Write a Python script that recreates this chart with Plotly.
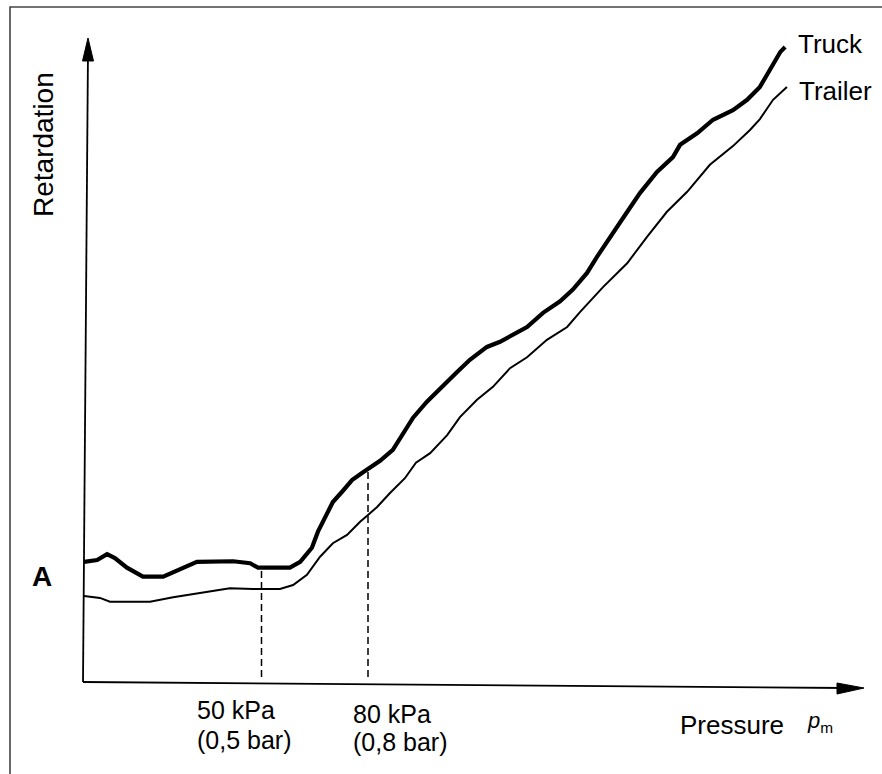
import plotly.graph_objects as go
import numpy as np

# ---- data (pressure in kPa, retardation in arbitrary units) ----
truck_p = [0, 3.7, 6.5, 8.7, 12.1, 16.6, 22.3, 26.2, 31.8, 42.0,
           46.8, 49.0, 58.0, 60.9, 64.2, 65.9, 67.9, 70.1, 72.7, 75.5,
           78.3, 80.6, 83.4, 87.0, 89.9, 92.7, 96.6, 100.3, 105.1, 108.7,
           113.5, 117.2, 120.8, 124.8, 129.3, 134.1, 137.7, 141.7, 144.5, 148.2,
           151.8, 156.6, 161.4, 165.9, 167.9, 172.7, 177.2, 182.8, 186.8, 190.4,
           193.2, 196.1, 197.5]
truck_r = [18.6, 18.9, 19.8, 19.2, 17.7, 16.3, 16.3, 17.3, 18.6, 18.7,
           18.4, 17.7, 17.7, 18.6, 20.8, 23.3, 25.6, 27.9, 29.5, 31.3,
           32.4, 33.2, 34.3, 36.0, 38.6, 41.0, 43.5, 45.6, 48.1, 50.0,
           52.0, 52.8, 53.9, 55.1, 57.3, 59.1, 60.9, 63.5, 66.0, 68.9,
           72.0, 75.9, 79.2, 81.5, 83.4, 85.2, 87.3, 88.8, 90.4, 92.4,
           95.0, 97.8, 98.6]

trailer_p = [0, 4.5, 7.3, 18.6, 25.1, 32.7, 41.1, 47.6, 55.2, 58.9,
             62.8, 66.5, 70.1, 74.1, 77.7, 80.0, 82.5, 86.2, 90.4, 93.5,
             97.5, 102.3, 105.9, 110.7, 115.2, 120.0, 124.8, 130.4, 136.1, 139.7,
             146.2, 153.0, 158.6, 164.2, 169.9, 176.3, 182.8, 187.6, 190.4, 194.1,
             198.0]
trailer_r = [13.3, 13.0, 12.4, 12.4, 13.1, 13.8, 14.5, 14.4, 14.4, 15.0,
             16.6, 19.4, 21.5, 22.8, 24.8, 25.9, 27.1, 29.3, 31.6, 34.0,
             35.5, 38.3, 41.1, 43.8, 45.8, 48.7, 50.4, 53.1, 55.1, 57.4,
             61.3, 65.0, 69.1, 73.0, 76.1, 80.3, 83.2, 85.7, 87.4, 90.4,
             92.4]

marker_p = [50, 80]
marker_labels = [("50 kPa", "(0,5 bar)"), ("80 kPa", "(0,8 bar)")]

# ---- layout geometry ----
W, H = 882, 774
L, R, T, B = 84, 19, 38, 28
KPA_PX = 3.55
Y0_PX = 681.6
UNIT_PX = 6.436
x_max = (W - R - L) / KPA_PX
y_min = -(H - B - Y0_PX) / UNIT_PX
y_max = (Y0_PX - T) / UNIT_PX


def Y(py):
    return (Y0_PX - py) / UNIT_PX


def PX(px):
    return (px - L) / (W - L - R)


def PY(py):
    return (H - B - py) / (H - T - B)


FONT = "Liberation Sans, Arial, sans-serif"

fig = go.Figure()
fig.add_trace(go.Scatter(x=truck_p, y=truck_r, mode="lines",
                         line=dict(color="black", width=4.2), name="Truck",
                         hoverinfo="skip"))
fig.add_trace(go.Scatter(x=trailer_p, y=trailer_r, mode="lines",
                         line=dict(color="black", width=2), name="Trailer",
                         hoverinfo="skip"))

for p in marker_p:
    top = float(np.interp(p, truck_p, truck_r))
    fig.add_trace(go.Scatter(x=[p, p], y=[Y(677), top], mode="lines",
                             line=dict(color="black", width=1.5, dash="7px,4px"),
                             hoverinfo="skip", showlegend=False))

shapes = []
# frame (left and top edges visible)
shapes.append(dict(type="rect", xref="paper", yref="paper", x0=PX(10), x1=PX(900),
                   y0=PY(800), y1=PY(7), line=dict(color="#444", width=1.6),
                   layer="below"))
# axes lines
shapes.append(dict(type="line", xref="paper", yref="paper", x0=PX(83), y0=PY(682),
                   x1=PX(88), y1=PY(50), line=dict(color="black", width=1.8)))
shapes.append(dict(type="line", xref="paper", yref="paper", x0=PX(83), y0=PY(682),
                   x1=PX(845), y1=PY(688), line=dict(color="black", width=1.8)))
# arrowheads
shapes.append(dict(type="path", xref="paper", yref="paper",
                   path=f"M {PX(88)},{PY(38)} L {PX(82.5)},{PY(61)} L {PX(93.5)},{PY(61)} Z",
                   fillcolor="black", line=dict(color="black", width=1)))
shapes.append(dict(type="path", xref="paper", yref="paper",
                   path=f"M {PX(864)},{PY(688)} L {PX(837)},{PY(683)} L {PX(837)},{PY(694)} Z",
                   fillcolor="black", line=dict(color="black", width=1)))

ann = []


def txt(text, px, py, size=26, xanchor="left", weight="normal", **kw):
    ann.append(dict(text=text, x=PX(px), y=PY(py), xref="paper", yref="paper",
                    showarrow=False, xanchor=xanchor, yanchor="middle",
                    font=dict(family=FONT, size=size, color="black", weight=weight),
                    **kw))


txt("Retardation", 44, 145, size=28, xanchor="center", textangle=-90)
txt("A", 42, 576, size=28, xanchor="center", weight="bold")
label_px = [197, 353]
label_py = [(710, 740), (714, 742)]
for (l1, l2), lx, (y1, y2) in zip(marker_labels, label_px, label_py):
    txt(l1, lx - 2, y1, size=25)
    txt(l2, lx - 2, y2, size=25)
txt("Pressure", 678, 725)
txt("<i>p</i><sub>m</sub>", 805, 722, size=22)
txt("Truck", 796, 44)
txt("Trailer", 797, 91)

fig.update_layout(
    width=W, height=H,
    margin=dict(l=L, r=R, t=T, b=B, pad=0),
    paper_bgcolor="white", plot_bgcolor="white",
    showlegend=False,
    xaxis=dict(range=[0, x_max], visible=False, fixedrange=True),
    yaxis=dict(range=[y_min, y_max], visible=False, fixedrange=True),
    shapes=shapes, annotations=ann,
)

fig.write_html("out.html", config={"displayModeBar": False},
               post_script="document.body.style.margin='0';")
